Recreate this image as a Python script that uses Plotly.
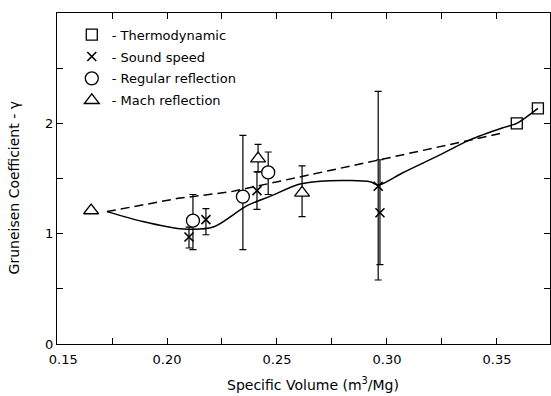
import plotly.graph_objects as go

# ---- data ----
thermo_x = [0.359, 0.3686]
thermo_y = [2.00, 2.136]

sound_x = [0.2100, 0.2177, 0.2409, 0.2960, 0.2968]
sound_y = [0.97, 1.127, 1.39, 1.43, 1.19]
sound_hi = [1.06, 1.227, 1.56, 2.29, 1.67]
sound_lo = [0.87, 0.99, 1.22, 0.58, 0.72]

regular_x = [0.2118, 0.2345, 0.2460]
regular_y = [1.118, 1.336, 1.555]
regular_hi = [1.355, 1.89, 1.74]
regular_lo = [0.855, 0.855, 1.355]

mach_x = [0.2414, 0.2614]
mach_y = [1.68, 1.37]
mach_hi = [1.81, 1.615]
mach_lo = [1.56, 1.155]
mach_free_x = [0.1655]
mach_free_y = [1.21]

solid_x = [0.1727, 0.189, 0.206, 0.221, 0.236, 0.247, 0.2605, 0.274, 0.2923,
           0.2962, 0.307, 0.3227, 0.3377, 0.3527, 0.359, 0.3686]
solid_y = [1.20, 1.11, 1.045, 1.06, 1.25, 1.34, 1.45, 1.48, 1.47,
           1.44, 1.55, 1.70, 1.85, 1.96, 2.00, 2.136]

dash_x = [0.1727, 0.205, 0.229, 0.2695, 0.2968, 0.352]
dash_y = [1.20, 1.32, 1.38, 1.55, 1.67, 1.91]

x_ticks = [0.15, 0.175, 0.20, 0.225, 0.25, 0.275, 0.30, 0.325, 0.35]
x_ticktext = ["\u00a0\u00a0\u00a00.15", " ", "0.20", " ", "0.25", " ", "0.30", " ", "0.35"]
y_ticks = [0, 0.5, 1, 1.5, 2, 2.5, 3]
y_ticktext = ["0", " ", "1", " ", "2", " ", " "]


def plus(y, hi):
    return [h - v for v, h in zip(y, hi)]


def minus(y, lo):
    return [v - l for v, l in zip(y, lo)]


BLACK = "black"
FONT = "DejaVu Sans"

fig = go.Figure()

fig.add_trace(go.Scatter(x=solid_x, y=solid_y, mode="lines",
                         line=dict(color=BLACK, width=1.5, shape="spline", smoothing=0.8),
                         showlegend=False, hoverinfo="skip"))
fig.add_trace(go.Scatter(x=dash_x, y=dash_y, mode="lines",
                         line=dict(color=BLACK, width=1.5, dash="9px,5px"),
                         showlegend=False, hoverinfo="skip"))

err_style = dict(type="data", color=BLACK, thickness=1.2, width=3.5)

fig.add_trace(go.Scatter(
    x=thermo_x, y=thermo_y, mode="markers", name="- Thermodynamic",
    legendgroup="a",
    marker=dict(symbol="square-open", size=11, color=BLACK, line=dict(width=1.3, color=BLACK))))

fig.add_trace(go.Scatter(
    x=sound_x, y=sound_y, mode="markers", name="- Sound speed",
    legendgroup="b",
    marker=dict(symbol="x-thin", size=9, color=BLACK, line=dict(width=1.6, color=BLACK)),
    error_y=dict(array=plus(sound_y, sound_hi), arrayminus=minus(sound_y, sound_lo),
                 symmetric=False, **err_style)))

fig.add_trace(go.Scatter(
    x=regular_x, y=regular_y, mode="markers", name="- Regular reflection",
    legendgroup="c",
    marker=dict(symbol="circle", size=13, color="white", line=dict(width=1.3, color=BLACK)),
    error_y=dict(array=plus(regular_y, regular_hi), arrayminus=minus(regular_y, regular_lo),
                 symmetric=False, **err_style)))

fig.add_trace(go.Scatter(
    x=mach_x, y=mach_y, mode="markers", name="- Mach reflection",
    legendgroup="d",
    marker=dict(symbol="triangle-up", size=13, color="white", line=dict(width=1.3, color=BLACK)),
    error_y=dict(array=plus(mach_y, mach_hi), arrayminus=minus(mach_y, mach_lo),
                 symmetric=False, **err_style)))

fig.add_trace(go.Scatter(
    x=mach_free_x, y=mach_free_y, mode="markers", showlegend=False, legendgroup="d",
    marker=dict(symbol="triangle-up", size=13, color="white", line=dict(width=1.3, color=BLACK))))

axis_common = dict(showline=True, linecolor=BLACK, linewidth=1.3, mirror="ticks",
                   ticks="inside", ticklen=6, tickwidth=1.2, tickcolor=BLACK,
                   showgrid=False, zeroline=False,
                   tickfont=dict(family=FONT, size=13, color=BLACK))

fig.update_xaxes(range=[0.15, 0.3741], tickvals=x_ticks, ticktext=x_ticktext,
                 ticklabelstandoff=3, **axis_common)
fig.update_yaxes(range=[0, 3.0], tickvals=y_ticks, ticktext=y_ticktext, **axis_common)

fig.update_layout(
    width=551, height=396,
    margin=dict(l=57, r=1, t=13, b=52),
    paper_bgcolor="white", plot_bgcolor="white",
    font=dict(family=FONT, size=13, color=BLACK),
    showlegend=True,
    legend=dict(x=0.03, y=0.98, xanchor="left", yanchor="top",
                bgcolor="rgba(0,0,0,0)", traceorder="grouped", tracegroupgap=2,
                font=dict(family=FONT, size=13, color=BLACK), itemwidth=30),
    annotations=[
        dict(text="Specific Volume (m<sup>3</sup>/Mg)", xref="paper", yref="paper",
             x=0.52, y=0, yshift=-40, showarrow=False, xanchor="center", yanchor="middle",
             font=dict(family=FONT, size=14, color=BLACK)),
        dict(text="Gruneisen Coefficient - γ", xref="paper", yref="paper",
             x=0, xshift=-43, y=0.47, showarrow=False, textangle=-90,
             xanchor="center", yanchor="middle",
             font=dict(family=FONT, size=14, color=BLACK)),
    ],
)

fig.write_html("out.html")
